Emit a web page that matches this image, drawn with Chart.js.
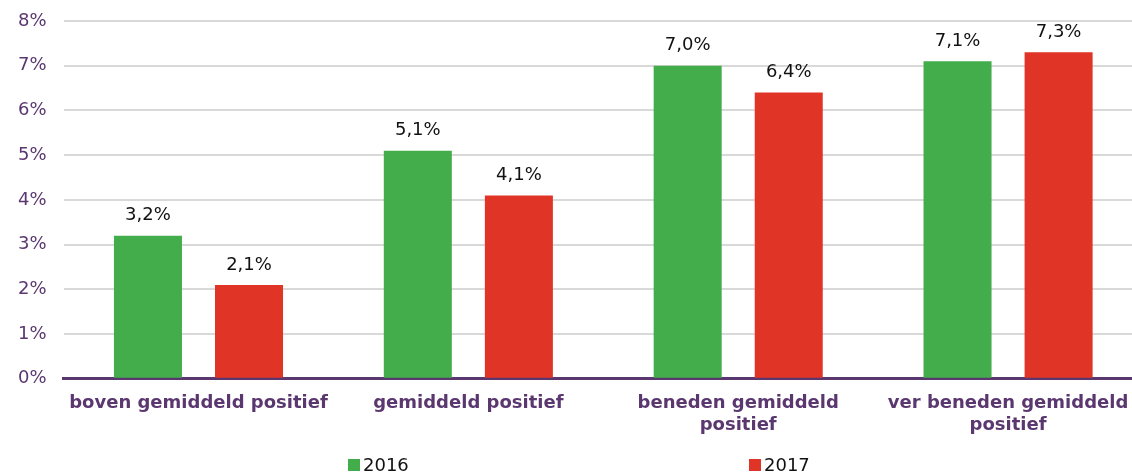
<!DOCTYPE html>
<html>
<head>
<meta charset="utf-8">
<script src="https://cdn.jsdelivr.net/npm/chart.js@4.4.0/dist/chart.umd.min.js"></script>
<style>
  html, body { margin: 0; padding: 0; background: #fff; overflow: hidden; }
  /* the original plot runs a little past the right edge of the picture */
  #wrap { position: relative; width: 1143px; height: 475px; }
  #legend { position: absolute; top: 454px; left: 0; width: 1132px; height: 21px;
            font: 18px "DejaVu Sans", Verdana, sans-serif; color: #111; }
  #legend span { position: absolute; top: 0; white-space: nowrap; }
  #legend i { display: inline-block; width: 12px; height: 12px; margin-right: 3px; vertical-align: 0; }
</style>
</head>
<body>
<div id="wrap">
  <canvas id="chart"></canvas>
  <div id="legend"></div>
</div>
<script>
const categories = [
    'boven gemiddeld positief',
    'gemiddeld positief',
    ['beneden gemiddeld', 'positief'],
    ['ver beneden gemiddeld', 'positief']
];
const seriesNames = ['2016', '2017'];
const values2016 = [3.2, 5.1, 7.0, 7.1];
const values2017 = [2.1, 4.1, 6.4, 7.3];
const yTicks = [0, 1, 2, 3, 4, 5, 6, 7, 8];

const colors = ['#43ad4b', '#e03427'];
const purple = '#5b3770';
const fontFamily = '"DejaVu Sans", Verdana, sans-serif';

// draws the value above each bar, e.g. "3,2%"
const valueLabels = {
    id: 'valueLabels',
    afterDatasetsDraw(chart) {
        const ctx = chart.ctx;
        ctx.save();
        ctx.font = '18px ' + fontFamily;
        ctx.fillStyle = '#111';
        ctx.textAlign = 'center';
        ctx.textBaseline = 'bottom';
        chart.data.datasets.forEach((ds, i) => {
            chart.getDatasetMeta(i).data.forEach((bar, j) => {
                const txt = ds.data[j].toFixed(1).replace('.', ',') + '%';
                ctx.fillText(txt, bar.x, bar.y - 11);
            });
        });
        ctx.restore();
    }
};

const ctx = document.getElementById('chart').getContext('2d');
const chart = new Chart(ctx, {
    type: 'bar',
    data: {
        labels: categories,
        datasets: [
            { label: seriesNames[0], data: values2016, backgroundColor: colors[0] },
            { label: seriesNames[1], data: values2017, backgroundColor: colors[1] }
        ]
    },
    options: {
        responsive: true,
        maintainAspectRatio: false,
        animation: false,
        layout: { padding: { top: 21, right: 0, left: 1, bottom: 33 } },
        datasets: {
            bar: { categoryPercentage: 0.749, barPercentage: 0.673 }
        },
        plugins: {
            tooltip: { enabled: false },
            legend: { display: false }
        },
        scales: {
            x: {
                grid: { display: false },
                border: { display: true, color: purple, width: 3 },
                ticks: {
                    color: purple,
                    maxRotation: 0,
                    padding: 6,
                    font: { family: fontFamily, size: 18, weight: 'bold', lineHeight: 1.2 }
                }
            },
            y: {
                min: 0,
                max: 8,
                afterBuildTicks(axis) {
                    axis.ticks = yTicks.map(v => ({ value: v }));
                },
                // tick padding would otherwise push the plot top down
                afterFit(axis) {
                    axis.paddingTop = 0;
                },
                grid: { color: '#d9d9d9', lineWidth: 2, drawTicks: false },
                border: { display: false },
                ticks: {
                    color: purple,
                    padding: 17,
                    font: { family: fontFamily, size: 18 },
                    callback: v => v + '%'
                }
            }
        }
    },
    plugins: [valueLabels]
});

// legend below the chart, two items spread apart like the original
const legend = document.getElementById('legend');
const legendX = [348, 749];
seriesNames.forEach((name, i) => {
    const s = document.createElement('span');
    s.style.left = legendX[i] + 'px';
    s.innerHTML = '<i style="background:' + colors[i] + '"></i>' + name;
    legend.appendChild(s);
});
</script>
</body>
</html>
